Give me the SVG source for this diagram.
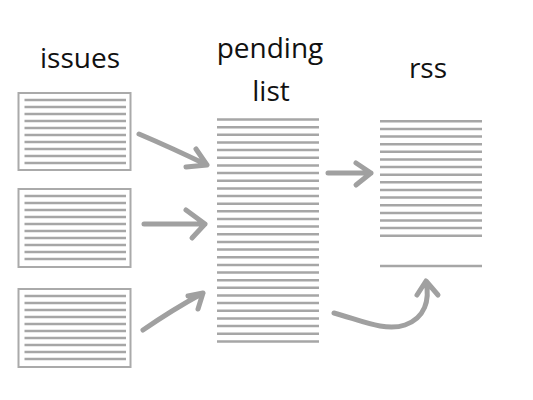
<svg xmlns="http://www.w3.org/2000/svg" width="533" height="400" viewBox="0 0 533 400">
<style>
.bg{fill:#ffffff}
.box{fill:#ffffff;stroke:#aaaaaa;stroke-width:2}
.ln{fill:none;stroke:#a6a6a6;stroke-width:2.5}
.arr{fill:none;stroke:#a0a0a0;stroke-width:5;stroke-linecap:round;stroke-linejoin:round}
.lbl{font-family:"Open Sans","DejaVu Sans",sans-serif;font-size:28px;fill:#111111;text-anchor:middle}
</style>
<rect class="bg" x="0" y="0" width="533" height="400"/>
<g id="label-issues"><text class="lbl" x="80" y="68">issues</text></g>
<g id="label-pending"><text class="lbl" x="270" y="58">pending</text><text class="lbl" x="271" y="101">list</text></g>
<g id="label-rss"><text class="lbl" x="428" y="78">rss</text></g>
<g id="issue1">
<rect class="box" x="18.5" y="93" width="112" height="77"/>
<path class="ln" d="M24.5,100H126M24.5,107H126M24.5,114H126M24.5,121H126M24.5,128H126M24.5,135H126M24.5,142H126M24.5,149H126M24.5,156H126M24.5,163H126"/>
</g>
<g id="issue2">
<rect class="box" x="18.5" y="189" width="112" height="78"/>
<path class="ln" d="M24.5,196H126M24.5,203H126M24.5,210H126M24.5,217H126M24.5,224H126M24.5,231H126M24.5,238H126M24.5,245H126M24.5,252H126M24.5,259H126"/>
</g>
<g id="issue3">
<rect class="box" x="18.5" y="289" width="112" height="78"/>
<path class="ln" d="M24.5,296H126M24.5,303H126M24.5,310H126M24.5,317H126M24.5,324H126M24.5,331H126M24.5,338H126M24.5,345H126M24.5,352H126M24.5,359H126"/>
</g>
<g id="pending-list">
<path class="ln" d="M217,119.5H319M217,127.2H319M217,134.8H319M217,142.5H319M217,150.1H319M217,157.8H319M217,165.4H319M217,173.1H319M217,180.7H319M217,188.4H319M217,196H319M217,203.7H319M217,211.3H319M217,219H319M217,226.6H319M217,234.3H319M217,241.9H319M217,249.6H319M217,257.2H319M217,264.9H319M217,272.5H319M217,280.2H319M217,287.8H319M217,295.5H319M217,303.1H319M217,310.8H319M217,318.4H319M217,326.1H319M217,333.7H319M217,341.4H319"/>
</g>
<g id="rss">
<path class="ln" d="M380,121.3H482M380,128.9H482M380,136.6H482M380,144.2H482M380,151.8H482M380,159.5H482M380,167.1H482M380,174.7H482M380,182.3H482M380,190H482M380,197.6H482M380,205.2H482M380,212.9H482M380,220.5H482M380,228.1H482M380,235.8H482M380,266H482"/>
</g>
<g id="connectors">
<path class="arr" d="M139,134 Q172,148 207,165 M196,149 L207,165 L186,167"/>
<path class="arr" d="M144,224 H205 M186,210 L205,224 L192,238"/>
<path class="arr" d="M143,330 Q172,310 203,293 M188,296 L203,293 L198,309"/>
<path class="arr" d="M328,173 H371 M356,163 L371,173 L356,185"/>
<path class="arr" d="M334,313 C360,320 385,332 405,325 C425,318 430,300 426,282 M417,295 L426,281 L438,295"/>
</g>
</svg>
